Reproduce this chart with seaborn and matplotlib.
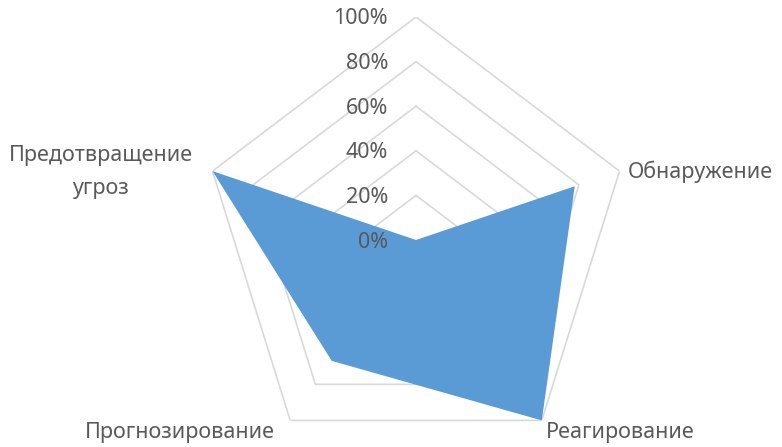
import numpy as np
import matplotlib
matplotlib.use("Agg")
import matplotlib.pyplot as plt
import seaborn as sns

categories = ["", "Обнаружение", "Реагирование", "Прогнозирование", "Предотвращение\nугроз"]
values = [0.0, 0.78, 1.0, 0.67, 1.0]
levels = [0.0, 0.2, 0.4, 0.6, 0.8, 1.0]
level_labels = ["0%", "20%", "40%", "60%", "80%", "100%"]

sns.set_theme(style="white")
plt.rcParams["font.family"] = ["Noto Sans", "DejaVu Sans"]

fig = plt.figure(figsize=(7.82, 4.47), dpi=100)
Rx, Ry = 214, 223
cx, cy = 416, 447 - 240
ax = fig.add_axes([(cx - Rx) / 782, (cy - Ry) / 447, 2 * Rx / 782, 2 * Ry / 447], projection="polar")
ax.set_aspect("auto")
ax.set_theta_offset(np.pi / 2)
ax.set_theta_direction(-1)
ax.set_ylim(0, 1)
ax.grid(False)
ax.spines["polar"].set_visible(False)
ax.set_xticks([])
ax.set_yticks([])
ax.patch.set_alpha(0)

n = len(categories)
theta = np.linspace(0, 2 * np.pi, n, endpoint=False)
theta_c = np.append(theta, theta[0])

grid_color = "#D9D9D9"
for lv in levels[1:]:
    ax.plot(theta_c, [lv] * (n + 1), color=grid_color, lw=1.2, zorder=1)

vals_c = np.append(values, values[0])
ax.fill(theta_c, vals_c, color="#5B9BD5", zorder=2, lw=0)

txt_color = "#595959"
fs = 15.5
for lv, lab in zip(levels, level_labels):
    ax.annotate(lab, xy=(0, lv), xytext=(-28, -2), textcoords="offset pixels",
                ha="right", va="center", color=txt_color, fontsize=fs, zorder=3)

offsets = {
    1: ((8, -1), "left", "center"),
    2: ((4, -12), "left", "center"),
    3: ((-15, -12), "right", "center"),
    4: ((-112, -1), "center", "center"),
}
for i, (off, ha, va) in offsets.items():
    ax.annotate(categories[i], xy=(theta[i], 1.0), xytext=off, textcoords="offset pixels",
                ha=ha, va=va, color=txt_color, fontsize=fs, multialignment="center",
                linespacing=1.8, annotation_clip=False)

fig.savefig("out.png", dpi=100)
